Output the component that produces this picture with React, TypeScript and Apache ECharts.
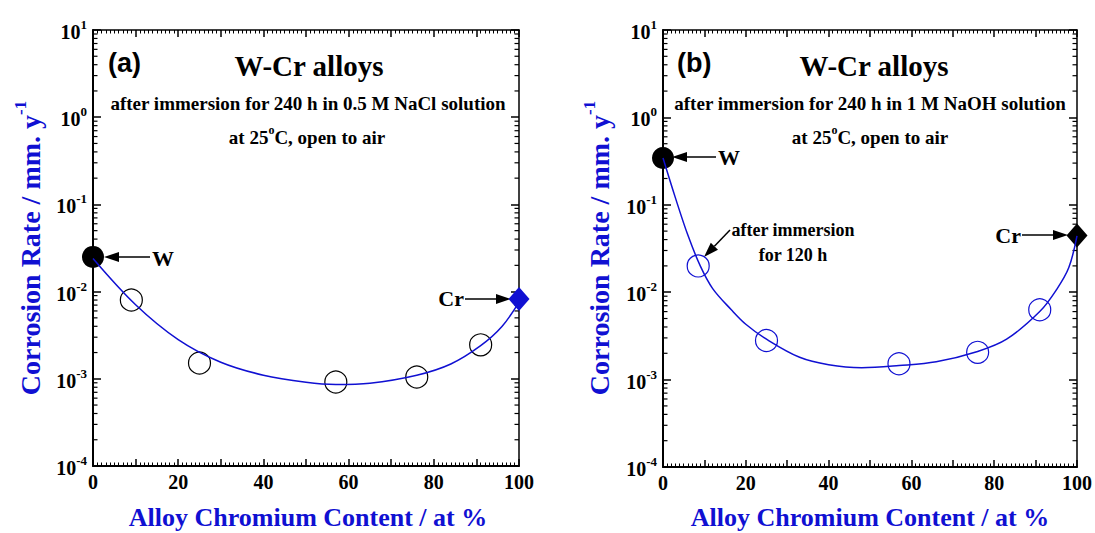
import React, { useEffect, useRef } from 'react';
import * as echarts from 'echarts';

const SERIF = '"Liberation Serif", "Times New Roman", serif';
const SANS = '"Liberation Sans", Arial, sans-serif';
const BLUE = '#1010d2';

// ---- axis ticks ----
const X_LABELS = [0, 20, 40, 60, 80, 100];
const Y_DECADES = [1e-4, 1e-3, 1e-2, 1e-1, 1, 10];
const Y_MINOR_MULT = [2, 3, 4, 5, 6, 7, 8, 9];

// ---- panel (a): 0.5 M NaCl ----
const aW = [[0, 0.025]];
const aAlloyX = [9, 25, 57, 76, 91];
const aAlloyY = [0.008, 0.00152, 0.00092, 0.00105, 0.00245];
const aCr = [[100, 0.0082]];
const aFitX = [0, 10, 20, 30, 40, 50, 57, 65, 76, 84, 91, 96, 100];
const aFitY = [0.024, 0.00708, 0.00282, 0.00155, 0.0011, 0.000912, 0.000861, 0.000891, 0.0011, 0.00148, 0.0024, 0.00398, 0.00759];

// ---- panel (b): 1 M NaOH ----
const bW = [[0, 0.343]];
const bAlloyX = [8.5, 25, 57, 76, 91];
const bAlloyY = [0.020, 0.0028, 0.00152, 0.00205, 0.0063];
const bCr = [[100, 0.0444]];
const bFitX = [0, 3, 6, 9, 12, 16.5, 20, 25, 33, 40, 48, 57, 66, 76, 83, 91, 95, 98, 100];
const bFitY = [0.343, 0.12, 0.045, 0.02, 0.011, 0.0063, 0.0043, 0.0029, 0.0018, 0.00148, 0.00137, 0.00145, 0.0016, 0.0021, 0.0029, 0.006, 0.0106, 0.019, 0.044];

const zip = (xs: number[], ys: number[]) => xs.map((x, i) => [x, ys[i]]);

function yMinorValues() {
  const out: number[][] = [];
  Y_DECADES.slice(0, -1).forEach((d) => Y_MINOR_MULT.forEach((m) => out.push([0, d * m])));
  return out;
}

function axesFor(gi: number) {
  const xBase = {
    type: 'value', gridIndex: gi, min: 0, max: 100, interval: 10,
    splitLine: { show: false },
    axisTick: { show: true, inside: true, length: 7, lineStyle: { color: '#000', width: 1.5 } },
    minorTick: { show: true, splitNumber: 10, length: 3.5, lineStyle: { color: '#000', width: 1 } },
  };
  const yBase = {
    type: 'log', logBase: 10, gridIndex: gi, min: 1e-4, max: 10,
    splitLine: { show: false },
    axisTick: { show: true, inside: true, length: 8, lineStyle: { color: '#000', width: 1.5 } },
  };
  const xs = [
    {
      ...xBase, position: 'bottom',
      axisLine: { show: true, onZero: false, lineStyle: { color: '#000', width: 2 } },
      axisLabel: {
        show: true, margin: 6, color: '#000', fontFamily: SERIF, fontWeight: 'bold', fontSize: 20,
        formatter: (v: number) => (X_LABELS.indexOf(v) >= 0 ? String(v) : ''),
      },
    },
    {
      ...xBase, position: 'top',
      axisLine: { show: true, onZero: false, lineStyle: { color: '#000', width: 1.5 } },
      axisLabel: { show: false },
    },
  ];
  const ys = [
    {
      ...yBase, position: 'left',
      axisLine: { show: true, onZero: false, lineStyle: { color: '#000', width: 2 } },
      axisLabel: {
        show: true, margin: 6, color: '#000', align: 'right',
        formatter: (v: number) => '{b|10}{s|' + Math.round(Math.log10(v)) + '}',
        rich: {
          b: { fontFamily: SERIF, fontWeight: 'bold', fontSize: 20, color: '#000', lineHeight: 24, verticalAlign: 'bottom' },
          s: { fontFamily: SERIF, fontWeight: 'bold', fontSize: 13, color: '#000', verticalAlign: 'top' },
        },
      },
    },
    {
      ...yBase, position: 'right',
      axisLine: { show: true, onZero: false, lineStyle: { color: '#000', width: 1.5 } },
      axisLabel: { show: false },
    },
  ];
  return { xs, ys };
}

function panelSeries(gi: number, W: number[][], ax: number[], ay: number[], cr: number[][], fx: number[], fy: number[], openColor: string, crColor: string) {
  const xi = gi * 2;
  const yi = gi * 2;
  return [
    {
      type: 'custom', xAxisIndex: xi, yAxisIndex: yi, silent: true, clip: false,
      data: yMinorValues(),
      encode: { x: 0, y: 1 },
      renderItem: (params: any, api: any) => {
        const pt = api.coord([0, api.value(1)]);
        const cs = params.coordSys;
        const L = 4.5;
        return {
          type: 'group',
          children: [
            { type: 'line', shape: { x1: cs.x, y1: pt[1], x2: cs.x + L, y2: pt[1] }, style: { stroke: '#000', lineWidth: 1.2 } },
            { type: 'line', shape: { x1: cs.x + cs.width - L, y1: pt[1], x2: cs.x + cs.width, y2: pt[1] }, style: { stroke: '#000', lineWidth: 1.2 } },
          ],
        };
      },
    },
    {
      type: 'scatter', xAxisIndex: xi, yAxisIndex: yi, z: 2, symbol: 'circle', symbolSize: 22,
      itemStyle: { color: 'rgba(0,0,0,0)', borderColor: openColor, borderWidth: 1.2, opacity: 1 },
      data: zip(ax, ay),
    },
    {
      type: 'scatter', xAxisIndex: xi, yAxisIndex: yi, z: 2, symbol: 'circle', symbolSize: 22,
      itemStyle: { color: '#000', opacity: 1 }, data: W,
    },
    {
      type: 'scatter', xAxisIndex: xi, yAxisIndex: yi, z: 2, symbol: 'diamond', symbolSize: [21, 24],
      itemStyle: { color: crColor, opacity: 1 }, data: cr,
    },
    {
      type: 'line', xAxisIndex: xi, yAxisIndex: yi, z: 3, smooth: 0.35, showSymbol: false, symbol: 'none',
      lineStyle: { color: BLUE, width: 1.5 }, data: zip(fx, fy),
    },
  ];
}

function txt(x: number, y: number, text: string, size: number, opts: any = {}) {
  return {
    type: 'text', x, y, silent: true, rotation: opts.rotation || 0,
    style: {
      text, fill: opts.color || '#000', fontFamily: opts.family || SERIF, fontWeight: 'bold', fontSize: size,
      align: opts.align || 'center', verticalAlign: 'middle', rich: opts.rich,
    },
  };
}

function supRich(size: number, supSize: number, color: string) {
  return {
    m: { fontFamily: SERIF, fontWeight: 'bold', fontSize: size, fill: color, color, lineHeight: size + 4, verticalAlign: 'bottom' },
    s: { fontFamily: SERIF, fontWeight: 'bold', fontSize: supSize, fill: color, color, verticalAlign: 'top' },
  };
}

function arrow(x1: number, y1: number, x2: number, y2: number) {
  const dx = x2 - x1, dy = y2 - y1;
  const len = Math.sqrt(dx * dx + dy * dy);
  const ux = dx / len, uy = dy / len;
  const hl = 15, hw = 5;
  const bx = x2 - ux * hl, by = y2 - uy * hl;
  return [
    { type: 'line', silent: true, shape: { x1, y1, x2: bx, y2: by }, style: { stroke: '#000', lineWidth: 1.5 } },
    {
      type: 'polygon', silent: true,
      shape: { points: [[x2, y2], [bx - uy * hw, by + ux * hw], [bx + uy * hw, by - ux * hw]] },
      style: { fill: '#000' },
    },
  ];
}

export default function App() {
  const ref = useRef<HTMLDivElement>(null);
  useEffect(() => {
    if (!ref.current) return;
    const chart = echarts.init(ref.current, undefined, { renderer: 'svg' });
    const A = axesFor(0);
    const B = axesFor(1);
    const sub2 = '{m|at 25}{s|o}{m|C, open to air}';
    chart.setOption({
      animation: false,
      backgroundColor: '#fff',
      grid: [
        { left: 93, top: 30, width: 426, height: 436, containLabel: false },
        { left: 663, top: 30, width: 415, height: 437, containLabel: false },
      ],
      xAxis: [...A.xs, ...B.xs],
      yAxis: [...A.ys, ...B.ys],
      series: [
        ...panelSeries(0, aW, aAlloyX, aAlloyY, aCr, aFitX, aFitY, '#000', BLUE),
        ...panelSeries(1, bW, bAlloyX, bAlloyY, bCr, bFitX, bFitY, BLUE, '#000'),
      ],
      graphic: [
        txt(108, 63, '(a)', 27, { family: SANS, align: 'left' }),
        txt(309, 66, 'W-Cr alloys', 29),
        txt(308, 103, 'after immersion for 240 h in 0.5 M NaCl solution', 19),
        txt(307, 135, sub2, 19, { rich: supRich(19, 12, '#000') }),
        txt(677, 63, '(b)', 27, { family: SANS, align: 'left' }),
        txt(874, 66, 'W-Cr alloys', 29),
        txt(870, 103, 'after immersion for 240 h in 1 M NaOH solution', 19),
        txt(870, 135, sub2, 19, { rich: supRich(19, 12, '#000') }),
        txt(152, 258, 'W', 22, { align: 'left' }),
        txt(464, 298, 'Cr', 22, { align: 'right' }),
        txt(718, 157, 'W', 22, { align: 'left' }),
        txt(1021, 235, 'Cr', 22, { align: 'right' }),
        txt(793, 230, 'after immersion', 18),
        txt(793, 255, 'for 120 h', 18),
        ...arrow(150, 257, 104, 257),
        ...arrow(465, 299, 511, 299),
        ...arrow(716, 157, 672, 157),
        ...arrow(1022, 235, 1068, 235),
        ...arrow(730, 230, 704, 257),
        txt(308, 517, 'Alloy Chromium Content / at %', 26, { color: BLUE }),
        txt(870, 517, 'Alloy Chromium Content / at %', 26, { color: BLUE }),
        txt(28, 248, '{m|Corrosion Rate / mm. y}{s|-1}', 28, { color: BLUE, rotation: Math.PI / 2, rich: supRich(28, 17, BLUE) }),
        txt(597, 248, '{m|Corrosion Rate / mm. y}{s|-1}', 28, { color: BLUE, rotation: Math.PI / 2, rich: supRich(28, 17, BLUE) }),
      ],
    });
    return () => chart.dispose();
  }, []);
  return <div ref={ref} style={{ position: 'fixed', left: 0, top: 0, width: 1095, height: 533, background: '#fff' }} />;
}
